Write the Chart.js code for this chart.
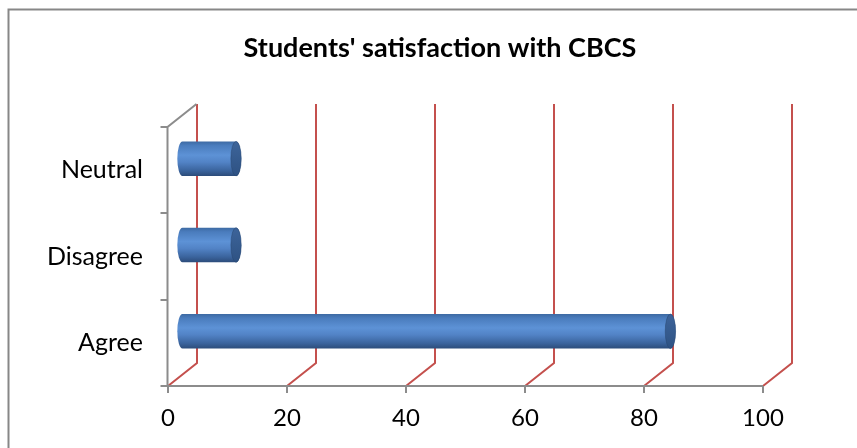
<!DOCTYPE html>
<html>
<head>
<meta charset="utf-8">
<script src="https://cdn.jsdelivr.net/npm/chart.js@4.4.1/dist/chart.umd.min.js"></script>
<style>
html, body { margin: 0; padding: 0; background: #fff; }
#wrap { position: relative; width: 857px; height: 448px; }
</style>
</head>
<body>
<div id="wrap"><canvas id="chart"></canvas></div>
<script>
const categories = ['Agree', 'Disagree', 'Neutral'];
const satisfaction = [82, 9, 9];
const xMin = 0, xMax = 100, xStep = 20;
const titleText = "Students' satisfaction with CBCS";

// depth of the fake 3d wall
const DX = 29, DY = 23;
const FONT = 'Lato, "Open Sans", sans-serif';

const wall3d = {
  id: 'wall3d',
  beforeDatasetsDraw(chart) {
    const ctx = chart.ctx;
    const xs = chart.scales.x, ys = chart.scales.y;
    const top = ys.top, bottom = ys.bottom;
    ctx.save();

    // outer frame (only top and left visible)
    ctx.strokeStyle = '#878787';
    ctx.lineWidth = 2;
    ctx.beginPath();
    ctx.moveTo(8.5, 448);
    ctx.lineTo(8.5, 9.5);
    ctx.lineTo(857, 9.5);
    ctx.stroke();

    // back gridlines
    ctx.strokeStyle = '#c4504d';
    ctx.lineWidth = 2;
    for (let v = xMin; v <= xMax; v += xStep) {
      const px = Math.round(xs.getPixelForValue(v));
      ctx.beginPath();
      ctx.moveTo(px, bottom);
      ctx.lineTo(px + DX, bottom - DY);
      ctx.lineTo(px + DX, top - DY);
      ctx.stroke();
    }

    // axes
    ctx.strokeStyle = '#8c8c8c';
    ctx.lineWidth = 2;
    const lx = xs.left - 0.5;
    ctx.beginPath();
    ctx.moveTo(lx + DX, top - DY);
    ctx.lineTo(lx, top);
    ctx.lineTo(lx, bottom);
    ctx.lineTo(xs.right, bottom);
    ctx.stroke();
    // category ticks
    const band = (bottom - top) / categories.length;
    for (let i = 0; i <= categories.length; i++) {
      const y = Math.round(top + i * band);
      ctx.beginPath();
      ctx.moveTo(lx - 7, y);
      ctx.lineTo(lx, y);
      ctx.stroke();
    }
    // value ticks
    for (let v = xMin; v <= xMax; v += xStep) {
      const px = Math.round(xs.getPixelForValue(v));
      ctx.beginPath();
      ctx.moveTo(px, bottom);
      ctx.lineTo(px, bottom + 7);
      ctx.stroke();
    }
    ctx.restore();
  },
  afterDatasetsDraw(chart) {
    const ctx = chart.ctx;
    const meta = chart.getDatasetMeta(0);
    ctx.save();
    meta.data.forEach(bar => {
      const p = bar.getProps(['x', 'y', 'base', 'height'], true);
      const h = p.height;
      const cy = p.y - DY / 2;
      const x0 = p.base + DX / 2, x1 = p.x + DX / 2;
      const rx = h * 0.15, ry = h / 2;
      const t = cy - ry, b = cy + ry;

      const g = ctx.createLinearGradient(0, t, 0, b);
      g.addColorStop(0, '#3d6aa3');
      g.addColorStop(0.12, '#4a7cbd');
      g.addColorStop(0.4, '#5d92d6');
      g.addColorStop(0.6, '#5283c6');
      g.addColorStop(0.85, '#3a639c');
      g.addColorStop(1, '#2c4c7a');

      ctx.beginPath();
      ctx.moveTo(x0, t);
      ctx.lineTo(x1, t);
      ctx.ellipse(x1, cy, rx, ry, 0, -Math.PI / 2, Math.PI / 2);
      ctx.lineTo(x0, b);
      ctx.ellipse(x0, cy, rx, ry, 0, Math.PI / 2, Math.PI * 1.5);
      ctx.closePath();
      ctx.fillStyle = g;
      ctx.fill();

      // end cap
      const cg = ctx.createLinearGradient(0, t, 0, b);
      cg.addColorStop(0, '#3d649a');
      cg.addColorStop(1, '#2e5283');
      ctx.beginPath();
      ctx.ellipse(x1, cy, rx, ry, 0, 0, Math.PI * 2);
      ctx.fillStyle = cg;
      ctx.fill();
      ctx.strokeStyle = 'rgba(40,70,110,0.6)';
      ctx.lineWidth = 0.8;
      ctx.stroke();
    });
    ctx.restore();
  }
};

new Chart(document.getElementById('chart'), {
  type: 'bar',
  data: {
    labels: categories,
    datasets: [{
      data: satisfaction,
      backgroundColor: 'rgba(0,0,0,0)',
      borderWidth: 0,
      categoryPercentage: 1,
      barPercentage: 0.4
    }]
  },
  options: {
    indexAxis: 'y',
    responsive: true,
    maintainAspectRatio: false,
    animation: false,
    layout: { padding: { left: 23, right: 0, top: 0, bottom: 0 } },
    plugins: {
      legend: { display: false },
      tooltip: { enabled: false },
      title: {
        display: true,
        text: titleText,
        color: '#000',
        font: { family: FONT, size: 27, weight: 'bold', lineHeight: 1.2 },
        padding: { top: 32, bottom: 127 - 32 - 27 * 1.2 }
      }
    },
    scales: {
      x: {
        min: xMin,
        max: xMax,
        grid: { display: false, drawTicks: false },
        border: { display: false },
        ticks: {
          stepSize: xStep,
          color: '#000',
          padding: 18,
          maxRotation: 0,
          font: { family: FONT, size: 24 }
        },
        afterFit(s) { s.height = 448 - 386; }
      },
      y: {
        reverse: true,
        grid: { display: false, drawTicks: false },
        border: { display: false },
        ticks: {
          color: '#000',
          padding: 25,
          font: { family: FONT, size: 25 }
        },
        afterFit(s) { s.width = 168 - 23; }
      },
      // empty right-hand spacer so the plot ends where the reference does
      yRight: {
        type: 'linear',
        position: 'right',
        grid: { display: false, drawTicks: false },
        border: { display: false },
        ticks: { display: false },
        afterFit(s) { s.width = 94; }
      }
    }
  },
  plugins: [wall3d]
});
</script>
</body>
</html>
